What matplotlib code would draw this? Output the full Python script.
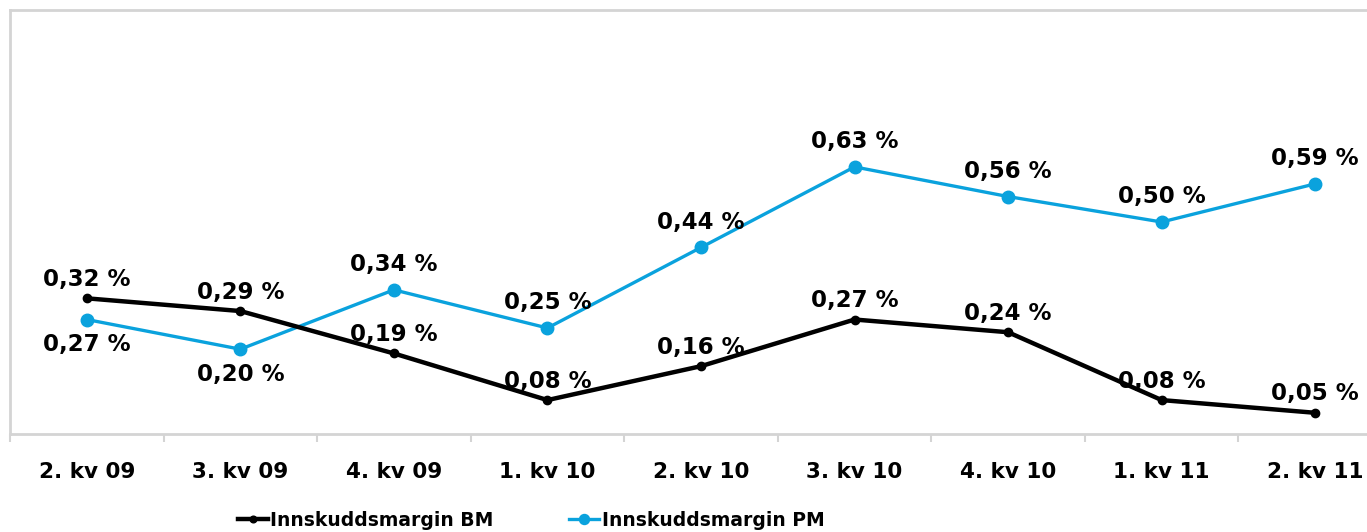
import numpy as np
import matplotlib
matplotlib.use("Agg")
import matplotlib.pyplot as plt
from matplotlib.ticker import FixedLocator, NullFormatter

# quarterly deposit margins
quarters = ["2. kv 09", "3. kv 09", "4. kv 09", "1. kv 10", "2. kv 10",
            "3. kv 10", "4. kv 10", "1. kv 11", "2. kv 11"]
margin_bm = [0.32, 0.29, 0.19, 0.08, 0.16, 0.27, 0.24, 0.08, 0.05]
margin_pm = [0.27, 0.20, 0.34, 0.25, 0.44, 0.63, 0.56, 0.50, 0.59]
# label placement: +1 above the point, -1 below
pm_label_side = [-1, -1, 1, 1, 1, 1, 1, 1, 1]

BLUE = "#0AA2DD"
GRID = "#D4D4D4"

fig = plt.figure(figsize=(13.67, 5.32), dpi=100)
ax = fig.add_axes([10 / 1367, 98 / 532, 1382 / 1367, 424 / 532])

x = np.arange(len(quarters))
ax.plot(x, margin_bm, color="black", lw=3.2, marker="o", ms=6,
        label="Innskuddsmargin BM", zorder=3)
ax.plot(x, margin_pm, color=BLUE, lw=2.4, marker="o", ms=9,
        label="Innskuddsmargin PM", zorder=2)

lbl = dict(fontsize=16.5, fontweight="bold", color="black", ha="center",
           va="center", textcoords="offset pixels", zorder=4)
for i, v in enumerate(margin_bm):
    ax.annotate(f"{v:.2f} %".replace(".", ","), (x[i], v), xytext=(0, 19), **lbl)
for i, (v, s) in enumerate(zip(margin_pm, pm_label_side)):
    off = 25 if s > 0 else -25
    ax.annotate(f"{v:.2f} %".replace(".", ","), (x[i], v), xytext=(0, off), **lbl)

ax.set_xlim(-0.5, len(quarters) - 0.5)
ax.set_ylim(0, 1.0)
ax.set_yticks([])

# tick marks between categories, labels at category centres
ax.xaxis.set_major_locator(FixedLocator(np.arange(-0.5, len(quarters), 1.0)))
ax.xaxis.set_major_formatter(NullFormatter())
ax.xaxis.set_minor_locator(FixedLocator(x))
ax.set_xticklabels(quarters, minor=True, fontsize=15.5, fontweight="bold")
ax.tick_params(axis="x", which="major", length=6, width=1.5, color=GRID)
ax.tick_params(axis="x", which="minor", length=0, pad=20)

for side in ["left", "top", "bottom"]:
    ax.spines[side].set_color(GRID)
    ax.spines[side].set_linewidth(2)
ax.spines["right"].set_visible(False)

leg = fig.legend(loc="center", bbox_to_anchor=(531 / 1367, 1 - 520 / 532),
                 ncol=2, frameon=False, handlelength=1.6, handletextpad=0.15,
                 columnspacing=4.0, markerscale=0.8,
                 prop=dict(size=13.5, weight="bold"))

fig.savefig("out.png", dpi=100, facecolor="white")
